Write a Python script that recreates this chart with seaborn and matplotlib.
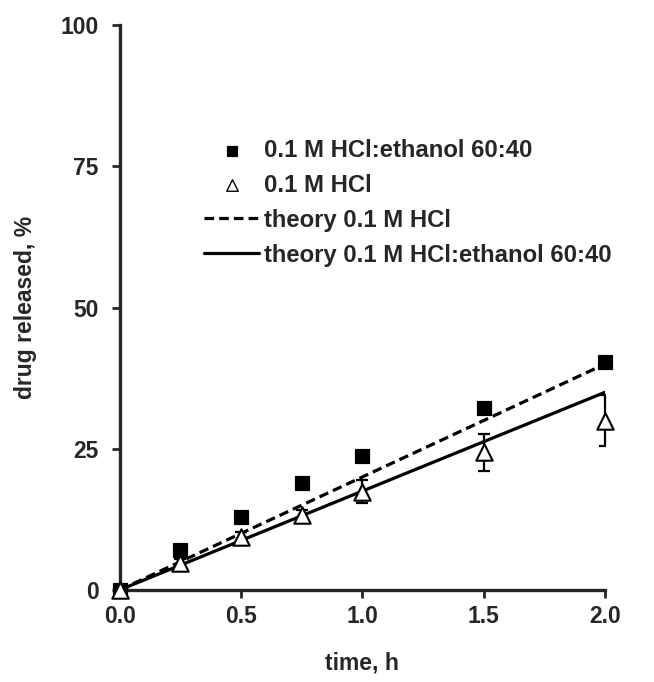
import numpy as np
import pandas as pd
import matplotlib
matplotlib.use('Agg')
import matplotlib.pyplot as plt
import seaborn as sns

# data
time_h = [0.0, 0.25, 0.5, 0.75, 1.0, 1.5, 2.0]
ethanol = [0.0, 7.1, 12.9, 18.9, 23.8, 32.2, 40.4]
hcl = [0.0, 4.8, 9.4, 13.3, 17.4, 24.4, 30.0]
hcl_err = [0.0, 0.6, 0.8, 0.9, 2.0, 3.3, 4.6]
theory_t = [0.0, 2.0]
theory_hcl = [0.0, 40.0]
theory_eth = [0.0, 35.0]

lab_eth = '0.1 M HCl:ethanol 60:40'
lab_hcl = '0.1 M HCl'
lab_th_hcl = 'theory 0.1 M HCl'
lab_th_eth = 'theory 0.1 M HCl:ethanol 60:40'

df = pd.DataFrame({'time': time_h, 'eth': ethanol, 'hcl': hcl, 'err': hcl_err})
th = pd.DataFrame({'time': theory_t, 'hcl': theory_hcl, 'eth': theory_eth})

sns.set_style('ticks')
plt.rcParams['font.family'] = ['Liberation Sans', 'DejaVu Sans']
plt.rcParams['font.weight'] = 'bold'

fs = 16.5
fig = plt.figure(figsize=(6.54, 6.82), dpi=100)
ax = fig.add_axes([0.183, 0.135, 0.742, 0.828])

sns.lineplot(data=th, x='time', y='hcl', ax=ax, color='black', lw=2.3,
             linestyle=(0, (3, 1.6)), label=lab_th_hcl, zorder=2)
sns.lineplot(data=th, x='time', y='eth', ax=ax, color='black', lw=2.3,
             label=lab_th_eth, zorder=2)
ax.errorbar(df['time'], df['hcl'], yerr=df['err'], fmt='none', ecolor='black',
            elinewidth=1.6, capsize=4, capthick=1.6, zorder=3)
sns.scatterplot(data=df, x='time', y='eth', ax=ax, marker='s', s=115,
                color='black', edgecolor='black', label=lab_eth, zorder=4)
sns.scatterplot(data=df, x='time', y='hcl', ax=ax, marker='^', s=140,
                facecolor='white', edgecolor='black', linewidth=1.5,
                label=lab_hcl, zorder=5)

ax.set_xlim(0, 2.0)
ax.set_ylim(0, 100)
ax.set_xticks([0, 0.5, 1.0, 1.5, 2.0])
ax.set_xticklabels(['0.0', '0.5', '1.0', '1.5', '2.0'])
ax.set_yticks([0, 25, 50, 75, 100])
ax.tick_params(labelsize=fs, width=2, length=6, direction='out')
ax.tick_params(axis='y', pad=9)
ax.tick_params(axis='x', pad=5)
for lbl in ax.get_xticklabels() + ax.get_yticklabels():
    lbl.set_fontweight('bold')
for s in ['left', 'bottom']:
    ax.spines[s].set_linewidth(2.4)
sns.despine(ax=ax)
for a in ax.collections:
    a.set_clip_on(False)

ax.set_xlabel('time, h', fontsize=fs, fontweight='bold', labelpad=17)
ax.set_ylabel('drug released, %', fontsize=fs, fontweight='bold', labelpad=17)

handles, labels = ax.get_legend_handles_labels()
order = [labels.index(l) for l in [lab_eth, lab_hcl, lab_th_hcl, lab_th_eth]]
leg = ax.legend([handles[i] for i in order], [labels[i] for i in order],
                loc='upper left', bbox_to_anchor=(0.13, 0.837), frameon=False,
                handlelength=2.3, handletextpad=0.2, labelspacing=0.5,
                markerscale=0.7, prop={'weight': 'bold', 'size': 17.2})
leg.legend_handles[1].set_linewidth(1.0)

fig.savefig('out.png', dpi=100)
